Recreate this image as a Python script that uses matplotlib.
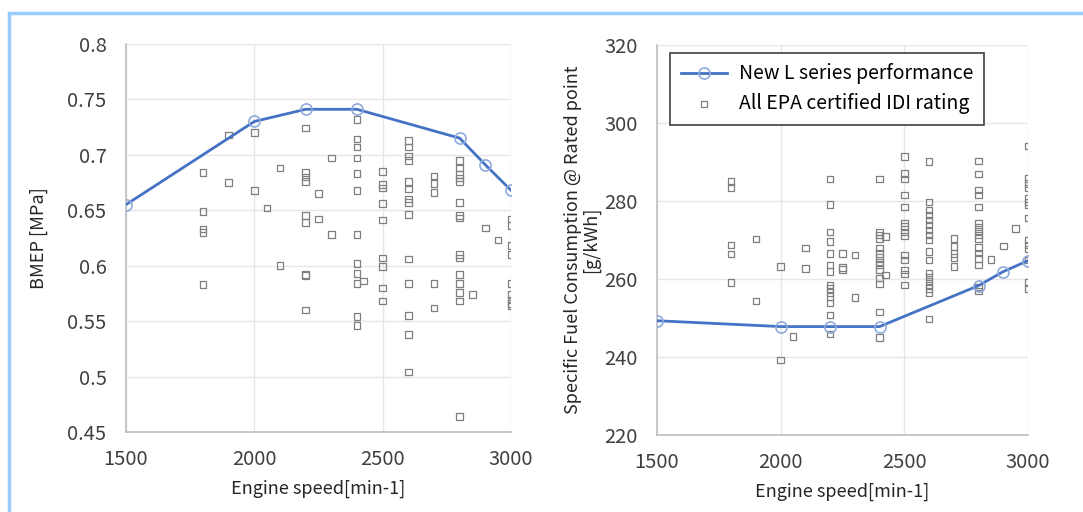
import matplotlib
matplotlib.use("Agg")
import matplotlib.pyplot as plt
from matplotlib.patches import Rectangle

plt.rcParams["font.family"] = ["Noto Sans CJK JP", "DejaVu Sans"]

# ── Data ───────────────────────────────────────────────────────────────────
L_RPM = [1500, 2000, 2200, 2400, 2800, 2900, 3000]
L_BMEP = [0.655, 0.730, 0.741, 0.741, 0.715, 0.691, 0.668]
L_SFC = [249.3, 247.8, 247.8, 247.8, 258.3, 261.9, 264.7]

# EPA certified IDI ratings — BMEP [MPa]
EPA_BMEP_RPM = (
    [1800] * 5 + [1900] * 2 + [2000] * 2 + [2050] + [2100] * 2
    + [2200] * 9 + [2250] * 2 + [2300] * 2 + [2400] * 12 + [2425]
    + [2500] * 9 + [2600] * 14 + [2700] * 5 + [2800] * 15 + [2850]
    + [2900] + [2950] + [3000] * 9
)
EPA_BMEP = [
    0.684, 0.649, 0.633, 0.630, 0.583,
    0.718, 0.675,
    0.720, 0.668,
    0.652,
    0.688, 0.600,
    0.724, 0.684, 0.680, 0.676, 0.645, 0.639, 0.592, 0.560, 0.591,
    0.665, 0.642,
    0.697, 0.628,
    0.732, 0.714, 0.707, 0.697, 0.683, 0.668, 0.628, 0.602, 0.593, 0.584, 0.554, 0.546,
    0.586,
    0.685, 0.673, 0.670, 0.656, 0.641, 0.607, 0.599, 0.580, 0.568,
    0.713, 0.707, 0.699, 0.695, 0.676, 0.669, 0.660, 0.657, 0.646, 0.606, 0.584, 0.555, 0.538, 0.504,
    0.681, 0.674, 0.666, 0.584, 0.562,
    0.695, 0.688, 0.682, 0.679, 0.676, 0.657, 0.645, 0.643, 0.610, 0.607, 0.592, 0.584, 0.576, 0.568, 0.464,
    0.574,
    0.634,
    0.623,
    0.642, 0.636, 0.618, 0.610, 0.584, 0.574, 0.569, 0.566, 0.564,
]

# EPA certified IDI ratings — SFC [g/kWh]
EPA_SFC_RPM = (
    [1800] * 5 + [1900] * 2 + [2000] * 2 + [2050] + [2100] * 2
    + [2200] * 14 + [2250] * 3 + [2300] * 2 + [2400] * 14 + [2425] * 2
    + [2500] * 14 + [2600] * 18 + [2700] * 5 + [2800] * 16 + [2850]
    + [2900] + [2950] + [3000] * 14
)
EPA_SFC = [
    285.0, 283.5, 268.7, 266.4, 259.1,
    270.3, 254.4,
    263.2, 239.2,
    245.2,
    267.9, 262.7,
    285.6, 279.1, 272.0, 269.6, 266.6, 263.6, 261.9, 258.5, 257.5, 256.5, 255.5, 253.8, 250.8, 245.9,
    266.6, 262.9, 262.4,
    266.1, 255.2,
    285.6, 272.1, 271.3, 270.4, 267.9, 266.6, 265.5, 264.4, 263.6, 262.5, 260.2, 258.7, 251.5, 245.0,
    270.9, 261.0,
    291.4, 287.1, 285.6, 281.5, 278.5, 274.4, 273.4, 272.1, 271.0, 266.2, 264.9, 262.3, 261.3, 258.5,
    290.1, 279.8, 277.7, 276.4, 275.1, 273.8, 272.6, 271.3, 270.0, 267.0, 264.9, 261.5, 260.5, 259.5,
    258.5, 257.5, 256.5, 249.7,
    270.4, 268.3, 266.6, 265.5, 263.2,
    290.3, 286.9, 282.8, 281.5, 278.5, 274.3, 273.3, 272.3, 271.3, 270.4, 268.1, 266.7, 265.3, 263.6,
    258.0, 256.9,
    265.0,
    268.5,
    273.0,
    294.1, 285.8, 284.5, 283.3, 280.7, 279.8, 279.0, 275.6, 270.0, 268.7, 267.7, 264.9, 259.1, 257.6,
]

X_TICKS = [1500, 2000, 2500, 3000]
BMEP_TICKS = [0.45, 0.5, 0.55, 0.6, 0.65, 0.7, 0.75, 0.8]
BMEP_LABELS = ["0.45", "0.5", "0.55", "0.6", "0.65", "0.7", "0.75", "0.8"]
SFC_TICKS = [220, 240, 260, 280, 300, 320]

# ── Style ──────────────────────────────────────────────────────────────────
LINE = "#4472C4"
MARK = "#8FAADC"
SQ = "#7F7F7F"
GRID = "#E6E6E6"
SPINE = "#BFBFBF"
TICK_TXT = "#404040"
FRAME = "#99CCFF"


def _style(ax):
    for side in ("top", "right"):
        ax.spines[side].set_visible(False)
    for side in ("left", "bottom"):
        ax.spines[side].set_color(SPINE)
        ax.spines[side].set_linewidth(1.2)
    ax.grid(True, color=GRID, linewidth=1.0)
    ax.set_axisbelow(True)
    ax.tick_params(length=0, labelsize=14.5, colors=TICK_TXT)
    ax.tick_params(axis="x", pad=12)
    ax.tick_params(axis="y", pad=14)
    ax.set_xlim(1500, 3000)
    ax.set_xticks(X_TICKS)
    ax.set_xlabel("Engine speed[min-1]", fontsize=13, color="#262626", labelpad=7)


def _draw(ax, rpm, val, l_val):
    ax.scatter(rpm, val, marker="s", s=22, facecolors="none",
               edgecolors=SQ, linewidths=0.9, zorder=2,
               label="All EPA certified IDI rating")
    ax.plot(L_RPM, l_val, color=LINE, linewidth=2.0, marker="o",
            markersize=8, markerfacecolor="none", markeredgecolor=MARK,
            markeredgewidth=1.2, zorder=3, label="New L series performance")


fig = plt.figure(figsize=(10.83, 5.12), dpi=100)
fig.patch.set_facecolor("white")

# light blue frame
fig.add_artist(Rectangle((0.0085, -0.05), 1.2, 1.025, transform=fig.transFigure,
                         fill=False, edgecolor=FRAME, linewidth=2.5))

ax1 = fig.add_axes([0.1163, 0.1563, 0.3555, 0.758])
_style(ax1)
_draw(ax1, EPA_BMEP_RPM, EPA_BMEP, L_BMEP)
ax1.set_ylim(0.45, 0.8)
ax1.set_yticks(BMEP_TICKS)
ax1.set_yticklabels(BMEP_LABELS)
ax1.set_ylabel("BMEP [MPa]", fontsize=13, color="#262626", labelpad=14)

ax2 = fig.add_axes([0.6066, 0.1504, 0.3426, 0.7617])
_style(ax2)
_draw(ax2, EPA_SFC_RPM, EPA_SFC, L_SFC)
ax2.set_ylim(220, 320)
ax2.set_yticks(SFC_TICKS)
ax2.set_ylabel("Specific Fuel Consumption @ Rated point\n[g/kWh]",
               fontsize=13, color="#262626", labelpad=3, linespacing=1.0)

handles, labels = ax2.get_legend_handles_labels()
leg = ax2.legend(handles[::-1], labels[::-1], loc="upper left",
                 bbox_to_anchor=(0.035, 0.98), fontsize=14, frameon=True,
                 fancybox=False, borderpad=0.55, handlelength=2.4,
                 handletextpad=0.6, labelspacing=0.45, borderaxespad=0)
leg.get_frame().set_edgecolor("#404040")
leg.get_frame().set_linewidth(1.2)
leg.get_frame().set_alpha(1)

fig.savefig("out.png", dpi=100, facecolor="white")
